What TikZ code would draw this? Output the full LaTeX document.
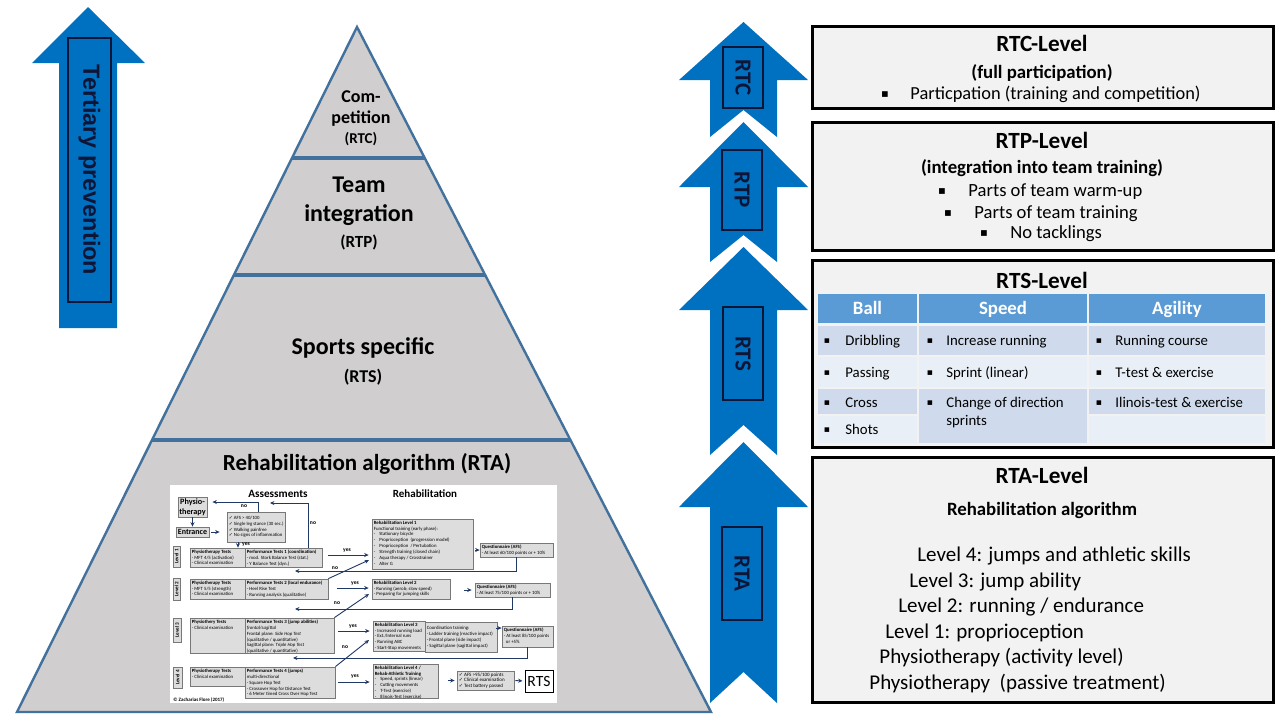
\documentclass[tikz,border=0pt]{standalone}
\usepackage{fontspec}
\setmainfont{Carlito}
\newfontfamily\arialf{Liberation Sans}
\newfontfamily\djv{DejaVu Sans}
\usetikzlibrary{arrows.meta,fit,calc}
\definecolor{ablue}{RGB}{0,112,192}
\definecolor{navy}{RGB}{14,22,56}
\definecolor{pgray}{RGB}{208,206,206}
\definecolor{pedge}{RGB}{65,113,156}
\definecolor{boxbg}{RGB}{242,242,242}
\definecolor{thead}{RGB}{91,155,213}
\definecolor{trowd}{RGB}{207,219,236}
\definecolor{trowl}{RGB}{233,239,247}
\definecolor{fbg}{RGB}{221,221,221}
\definecolor{fedge}{RGB}{120,120,120}
\definecolor{farrow}{RGB}{31,56,100}
\newcommand\tf{\fontsize{2.4}{2.95}\selectfont}
\newcommand\ck{{\djv ✓}}
\newcommand\fbx[6]{%
  \node[fbox,fit={(#2,#3)(#4,#5)}] (#1) {};
  \node[ftext,anchor=north west] (#1t) at (#1.north west) {#6};}
\newcommand\bitem[6]{%
  \pgfmathsetmacro\bsz{#5*0.62}%
  \node[inner sep=0pt,font=\djv\fontsize{\bsz}{\bsz}\selectfont] (#1b) at (#2,#4) {▪};
  \node[inner sep=0pt,anchor=mid west,font=\fontsize{#5}{#5}\selectfont] (#1) at (#3,#4) {#6};}
\newcommand\uparr[4]{\fill[ablue] (743.5,#1) -- (808,#2) -- (777,#2) -- (777,#3) -- (743.5,#4) -- (710,#3) -- (710,#2) -- (679,#2) -- cycle;}
\begin{document}
\begin{tikzpicture}[x=0.5pt,y=-0.5pt,
  fbox/.style={draw=fedge,fill=fbg,line width=0.4pt,inner sep=0pt},
  ftext/.style={font=\tf,align=left,inner sep=0.9pt,text=black},
  fa/.style={-{Stealth[length=2.2pt,width=2pt]},draw=farrow,line width=0.45pt},
  fl/.style={font=\bfseries\fontsize{2.8}{3}\selectfont,inner sep=0.3pt},
  lvl/.style={rotate=90,font=\bfseries\fontsize{2.6}{3}\selectfont,inner sep=0pt},
  abox/.style={draw=navy,line width=1pt,inner sep=0pt},
  alabel/.style={rotate=-90,font=\bfseries\fontsize{11.5}{13}\selectfont,text=navy,inner sep=0pt},
  rbox/.style={draw=black,fill=boxbg,line width=1.5pt,inner sep=0pt},
  rtitle/.style={font=\bfseries\fontsize{11.6}{14}\selectfont,anchor=mid,inner sep=0pt},
  pt/.style={anchor=mid,inner sep=0pt,text=black},
  cell/.style={inner sep=0pt,draw=none}
]
\useasboundingbox (0,0) rectangle (1280,720);
\fill[white] (0,0) rectangle (1280,720);

% ---------- left arrow ----------
\fill[ablue] (88,7) -- (145,63) -- (117,63) -- (117,328) -- (59,328) -- (59,63) -- (32,63) -- cycle;
\node[abox,fit={(68,38)(111,302)}] (tpbox) {};
\node[rotate=-90,inner sep=0pt,text=navy,font=\arialf\bfseries\fontsize{11.7}{14}\selectfont] (tp) at (tpbox.center) {Tertiary prevention};

% ---------- pyramid ----------
\coordinate (apex) at (357,27);
\coordinate (bl) at (17,712);
\coordinate (br) at (711,712);
\filldraw[fill=pgray,draw=pedge,line width=1.2pt,line join=miter] (apex) -- (br) -- (bl) -- cycle;
\draw[pedge,line width=1.6pt] ($(apex)!0.1912!(bl)$) -- ($(apex)!0.1912!(br)$);
\draw[pedge,line width=1.6pt] ($(apex)!0.3620!(bl)$) -- ($(apex)!0.3620!(br)$);
\draw[pedge,line width=1.6pt] ($(apex)!0.6029!(bl)$) -- ($(apex)!0.6029!(br)$);

\node[pt,font=\bfseries\fontsize{9}{10}\selectfont] (pc1) at (361,98) {Com-};
\node[pt,font=\bfseries\fontsize{9}{10}\selectfont] (pc2) at (361,119) {petition};
\node[pt,font=\bfseries\fontsize{7.5}{9}\selectfont] (pc3) at (361,139) {(RTC)};
\node[pt,font=\bfseries\fontsize{12}{14}\selectfont] (pp1) at (359,188) {Team};
\node[pt,font=\bfseries\fontsize{12}{14}\selectfont] (pp2) at (359,217) {integration};
\node[pt,font=\bfseries\fontsize{8.5}{10}\selectfont] (pp3) at (359,243) {(RTP)};
\node[pt,font=\bfseries\fontsize{12}{14}\selectfont] (ps1) at (363,350) {Sports specific};
\node[pt,font=\bfseries\fontsize{9}{10}\selectfont] (ps2) at (363,378) {(RTS)};
\node[pt,font=\bfseries\fontsize{11.5}{13}\selectfont] (pa1) at (367,466) {Rehabilitation algorithm (RTA)};

% ---------- flowchart ----------
\node[fill=white,inner sep=0pt,fit={(170,485)(557,703)}] (fc) {};
\node[pt,font=\bfseries\fontsize{5.6}{6}\selectfont] (asst) at (278,493) {Assessments};
\node[pt,font=\bfseries\fontsize{5.5}{6}\selectfont] (rht) at (425,493) {Rehabilitation};

\node[fbox,fit={(178,497)(207,517)}] (phys) {};
\node[inner sep=0pt,align=center,font=\bfseries\fontsize{4.1}{4.8}\selectfont] (physt) at (phys.center) {Physio-\\therapy};
\node[fbox,fit={(176,527)(209,537)}] (entr) {};
\node[inner sep=0pt,font=\bfseries\fontsize{4}{4.5}\selectfont] (entrt) at (entr.center) {Entrance};
\node[fbox,fit={(227,512)(285,542)}] (check) {};
\node[ftext,anchor=west,font=\fontsize{2.4}{2.8}\selectfont] (checkt) at (check.west) {\ck\ AFS > 40/100\\\ck\ Single leg stance (30 sec.)\\\ck\ Walking painfree\\\ck\ No signs of inflammation};

% level labels
\node[fbox,fit={(173,546)(180,567)}] (lv1) {};
\node[lvl] (lv1t) at (lv1.center) {Level 1};
\node[fbox,fit={(173,578)(180,600)}] (lv2) {};
\node[lvl] (lv2t) at (lv2.center) {Level 2};
\node[fbox,fit={(173,618)(181,642)}] (lv3) {};
\node[lvl] (lv3t) at (lv3.center) {Level 3};
\node[fbox,fit={(173,667)(182,688)}] (lv4) {};
\node[lvl] (lv4t) at (lv4.center) {Level 4};

% assessment rows
\fbx{p1}{190}{548}{245}{567}{\textbf{Physiotherapy Tests}\\- MFT 4/5 (activation)\\- Clinical examination}
\fbx{f1}{245}{548}{322}{567}{\textbf{Performance Tests 1 (coordination)}\\- mod. Stork Balance Test (stat.)\\- Y Balance Test (dyn.)}
\fbx{p2}{190}{579}{245}{599}{\textbf{Physiotherapy Tests}\\- MFT 5/5 (strength)\\- Clinical examination}
\fbx{f2}{245}{579}{328}{599}{\textbf{Performance Tests 2 (local endurance)}\\- Heel Rise Test\\- Running analysis (qualitative)}
\fbx{p3}{190}{618}{245}{653}{\textbf{Physiothery Tests}\\- Clinical examination}
\fbx{f3}{245}{618}{334}{653}{\textbf{Performance Tests 3 (jump abilities)}\\\textit{frontal/sagittal}\\Frontal plane: \textit{Side Hop Test}\\(qualitative / quantitative)\\Sagittal plane: \textit{Triple Hop Test}\\(qualitative / quantitative)}
\fbx{p4}{190}{667}{245}{686}{\textbf{Physiotherapy Tests}\\- Clinical examination}
\fbx{f4}{245}{667}{335}{698}{\textbf{Performance Tests 4 (jumps)}\\multi-directional\\- Square Hop Test\\- Crossover Hop for Distance Test\\- 6 Meter timed Cross Over Hop Test}
\node[anchor=mid west,inner sep=0pt,font=\bfseries\fontsize{2.5}{3}\selectfont] (copy) at (173,697) {© Zacharias Flore (2017)};

% rehabilitation boxes
\fbx{r1}{372}{519}{473}{569}{\textbf{Rehabilitation Level 1}\\Functional training (early phase):\\-\hspace{2pt}Stationary bicycle\\-\hspace{2pt}Proprioception\ \ (progression model)\\-\hspace{2pt}Proprioception\ \ / Pertubation\\-\hspace{2pt}Strength training (closed chain)\\-\hspace{2pt}Aqua therapy / Crosstrainer\\-\hspace{2pt}Alter G}
\fbx{q1}{480}{543}{553}{557}{\textbf{Questionnaire (AFS)}\\- At least 60/100 points or + 10\%}
\fbx{r2}{372}{579}{450}{599}{\textbf{Rehabilitation Level 2}\\- Running (aerob; slow speed)\\- Preparing for jumping skills}
\fbx{q2}{475}{583}{550}{597}{\textbf{Questionnaire (AFS)}\\- At least 75/100 points or + 10\%}
\fbx{r3}{373}{621}{425}{651}{\textbf{Rehabilitation Level 3}\\- Increased running load\\- Ext./Internal runs\\- Running ABC\\- Start-Stop movements}
\fbx{co}{425}{622}{497}{652}{\\Coordination training:\\- Ladder training (reactive impact)\\- Frontal plane (side impact)\\- Sagittal plane (sagittal impact)}
\fbx{q3}{502}{626}{553}{647}{\textbf{Questionnaire (AFS)}\\- At least 85/100 points\\\ \ or +5\%}
\fbx{r4}{373}{664}{438}{698}{\textbf{Rehabilitation Level 4 /}\\\textbf{Rehab-Athletic Training}\\-\hspace{2pt}Speed, sprints (linear)\\-\hspace{2pt}Cutting movements\\-\hspace{2pt}T-Test (exercise)\\-\hspace{2pt}Illinois-Test (exercise)}
\node[fbox,fit={(457,671)(514,690)}] (c4) {};
\node[ftext,anchor=west,font=\fontsize{2.5}{2.9}\selectfont] (c4t) at (c4.west) {\ck\ AFS >95/100 points\\\ck\ Clinical examination\\\ck\ Test battery passed};
\node[draw=black,fill=white,line width=0.5pt,inner sep=0pt,fit={(525,670)(553,692)}] (rtsb) {};
\node[inner sep=0pt,font=\fontsize{7.8}{9}\selectfont] (rtsbt) at (rtsb.center) {RTS};

% flowchart connectors
\draw[fa] (phys.south) -- (entr.north);
\draw[fa,shorten <=1pt,shorten >=3.5pt] (entr.east) -- (entr.east -| check.west);
\coordinate (cn) at (258,502);
\draw[fa,shorten >=2.5pt] (check.north -| cn) -- (cn) -- (cn -| phys.east);
\node[fl] (lno0) at (244,506) {no};
\coordinate (cy) at (238,540);
\draw[fa] (check.south -| cy) -- (p1.north -| cy);
\node[fl] (lyes0) at (246,545) {yes};
\coordinate (cn2) at (308,503);
\coordinate (cn3) at (270,503);
\draw[fa] (f1.north -| cn2) -- (cn2) -- (cn3);
\node[fl] (lno00) at (313,523) {no};

\coordinate (ya1) at (328,555);
\draw[fa,shorten >=1.5pt] (ya1) -- (ya1 -| r1.west);
\node[fl] (ly1) at (347,551) {yes};
\coordinate (ya2) at (337,588);
\draw[fa,shorten >=1.5pt] (ya2) -- (ya2 -| r2.west);
\node[fl] (ly2) at (355,584) {yes};
\coordinate (ya3) at (338,631);
\draw[fa,shorten >=1.5pt] (ya3) -- (ya3 -| r3.west);
\node[fl] (ly3) at (353,627) {yes};
\coordinate (ya4) at (338,682);
\draw[fa,shorten >=1.5pt] (ya4) -- (ya4 -| r4.west);
\node[fl] (ly4) at (355,677) {yes};

\coordinate (dn1) at (369,560);
\draw[fa] (f2.north east) -- (dn1);
\node[fl] (ln1) at (335,568) {no};
\coordinate (dn2) at (369,594);
\draw[fa] (f3.north east) -- (dn2);
\node[fl] (ln2) at (337,603) {no};
\coordinate (dn3) at (369,640);
\draw[fa] (f4.north east) -- (dn3);
\node[fl] (ln3) at (345,647) {no};

\coordinate (lp1) at (295,571);
\draw[fa] (q1.south) |- (lp1);
\coordinate (lp2) at (295,609);
\draw[fa] (q2.south) |- (lp2);
\coordinate (lp3) at (293,658);
\draw[fa] (q3.south) |- (lp3);

\draw[fa,shorten <=1pt] (q1.west -| r1.east) -- (q1.west);
\draw[fa,shorten <=7pt,shorten >=1.5pt] (q2.west -| r2.east) -- (q2.west);
\coordinate (a3) at (496,628);
\draw[fa] (a3) -- (a3 -| q3.west);
\draw[fa,shorten <=5pt,shorten >=1pt] (r4.east |- c4.west) -- (c4.west);
\draw[fa,shorten <=0.5pt,shorten >=1pt] (c4.east) -- (rtsb.west);

% ---------- right arrows ----------
\uparr{22}{80}{137}{110}
\uparr{122}{187}{262}{235}
\uparr{247}{310}{455}{425}
\uparr{442}{507}{703}{672}
\node[abox,fit={(723,47)(763,108)}] (ab1) {};
\node[alabel] (ab1t) at (ab1.center) {RTC};
\node[abox,fit={(722,150)(762,230)}] (ab2) {};
\node[alabel] (ab2t) at (ab2.center) {RTP};
\node[abox,fit={(723,307)(763,400)}] (ab3) {};
\node[alabel] (ab3t) at (ab3.center) {RTS};
\node[abox,fit={(722,527)(762,620)}] (ab4) {};
\node[alabel] (ab4t) at (ab4.center) {RTA};

% ---------- right boxes ----------
\node[rbox,fit={(812,26)(1273,108)}] (rtc) {};
\node[rtitle] (rtct) at (1042,47) {RTC-Level};
\node[pt,font=\bfseries\fontsize{9.4}{11}\selectfont] (rtcs) at (1042,74) {(full participation)};
\bitem{rtci}{885}{910}{95}{9.2}{Particpation (training and competition)}

\node[rbox,fit={(812,122)(1273,250)}] (rtp) {};
\node[rtitle] (rtpt) at (1042,144) {RTP-Level};
\node[pt,font=\bfseries\fontsize{9.4}{11}\selectfont] (rtps) at (1042,169) {(integration into team training)};
\bitem{rtpa}{942}{968}{192}{9.3}{Parts of team warm-up}
\bitem{rtpb}{948}{974}{214}{9.3}{Parts of team training}
\bitem{rtpc}{984}{1010}{234}{9.3}{No tacklings}

\node[rbox,fit={(812,260)(1273,447)}] (rts) {};
\node[rtitle] (rtst) at (1042,284) {RTS-Level};
\node[cell,fill=thead,fit={(818,294)(917,323)}] (hball) {};
\node[cell,fill=thead,fit={(919,294)(1087,323)}] (hspeed) {};
\node[cell,fill=thead,fit={(1089,294)(1265,323)}] (hagil) {};
\node[pt,text=white,font=\bfseries\fontsize{9.4}{11}\selectfont] (hballt) at (867.5,310) {Ball};
\node[pt,text=white,font=\bfseries\fontsize{9.4}{11}\selectfont] (hspeedt) at (1003,310) {Speed};
\node[pt,text=white,font=\bfseries\fontsize{9.4}{11}\selectfont] (hagilt) at (1177,310) {Agility};
\node[cell,fill=trowd,fit={(818,326)(917,355)}] (b1) {};
\node[cell,fill=trowl,fit={(818,357)(917,387)}] (b2) {};
\node[cell,fill=trowd,fit={(818,389)(917,414)}] (b3) {};
\node[cell,fill=trowl,fit={(818,416)(917,443)}] (b4) {};
\node[cell,fill=trowd,fit={(919,326)(1087,355)}] (s1) {};
\node[cell,fill=trowl,fit={(919,357)(1087,387)}] (s2) {};
\node[cell,fill=trowd,fit={(919,389)(1087,443)}] (s3) {};
\node[cell,fill=trowd,fit={(1089,326)(1265,355)}] (g1) {};
\node[cell,fill=trowl,fit={(1089,357)(1265,387)}] (g2) {};
\node[cell,fill=trowd,fit={(1089,389)(1265,414)}] (g3) {};
\node[cell,fill=trowl,fit={(1089,416)(1265,443)}] (g4) {};
\bitem{tb1}{827}{845}{341}{7.4}{Dribbling}
\bitem{tb2}{827}{845}{373}{7.4}{Passing}
\bitem{tb3}{827}{845}{403}{7.4}{Cross}
\bitem{tb4}{827}{845}{430}{7.4}{Shots}
\bitem{ts1}{930}{946}{341}{7.4}{Increase running}
\bitem{ts2}{930}{946}{373}{7.4}{Sprint (linear)}
\bitem{ts3}{930}{946}{403}{7.4}{Change of direction}
\node[inner sep=0pt,anchor=mid west,font=\fontsize{7.4}{7.4}\selectfont] (ts4) at (946,421) {sprints};
\bitem{tg1}{1099}{1115}{341}{7.4}{Running course}
\bitem{tg2}{1099}{1115}{373}{7.4}{T-test \& exercise}
\bitem{tg3}{1099}{1115}{403}{7.4}{Ilinois-test \& exercise}

\node[rbox,fit={(812,457)(1273,702)}] (rta) {};
\node[rtitle] (rtat) at (1042,479) {RTA-Level};
\node[pt,font=\bfseries\fontsize{9.4}{11}\selectfont] (rtas) at (1042,511) {Rehabilitation algorithm};
\node[inner sep=0pt,anchor=mid west,font=\fontsize{10.5}{12}\selectfont] (l4) at (917,557) {Level 4: jumps and athletic skills};
\node[inner sep=0pt,anchor=mid west,font=\fontsize{10.5}{12}\selectfont] (l3) at (909,583) {Level 3: jump ability};
\node[inner sep=0pt,anchor=mid west,font=\fontsize{10.5}{12}\selectfont] (l2) at (898,608) {Level 2: running / endurance};
\node[inner sep=0pt,anchor=mid west,font=\fontsize{10.5}{12}\selectfont] (l1) at (885,634) {Level 1: proprioception};
\node[inner sep=0pt,anchor=mid west,font=\fontsize{10.5}{12}\selectfont] (l0a) at (879,659) {Physiotherapy (activity level)};
\node[inner sep=0pt,anchor=mid west,font=\fontsize{10.5}{12}\selectfont] (l0b) at (869,685) {Physiotherapy\ \ (passive treatment)};
\end{tikzpicture}
\end{document}
